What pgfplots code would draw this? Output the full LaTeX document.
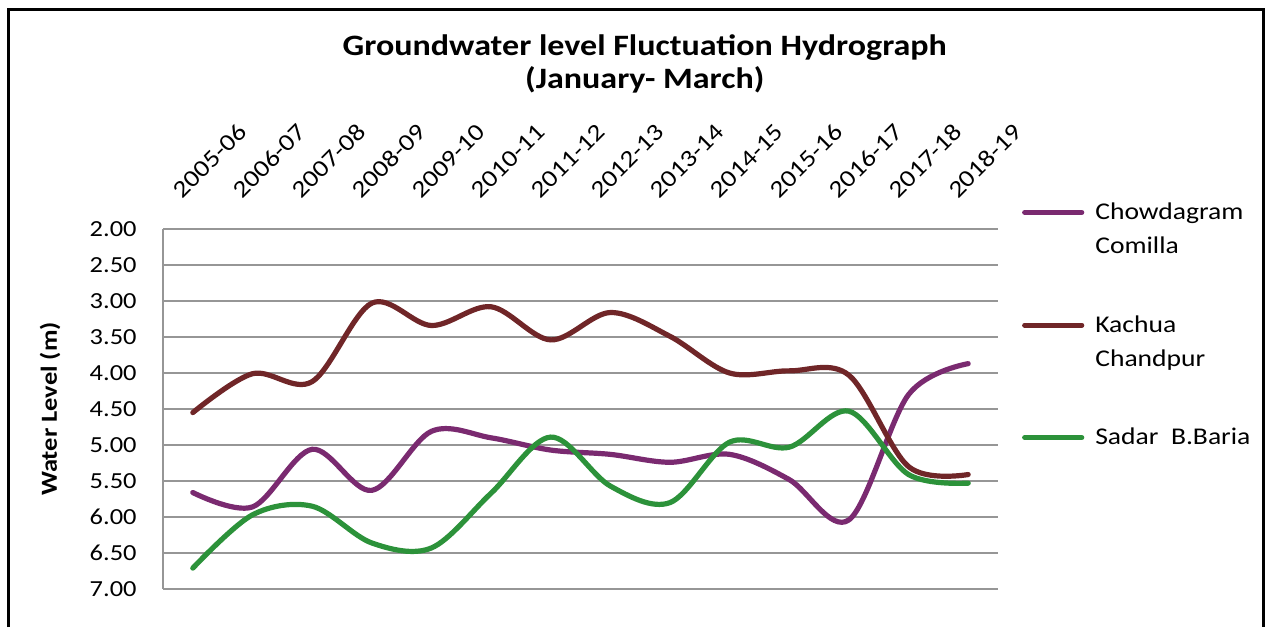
\documentclass[border=0pt]{standalone}
\usepackage{fontspec}
\setmainfont[FakeStretch=1.15]{Carlito}
\usepackage{pgfplots}
\pgfplotsset{compat=1.18}
\definecolor{cpurple}{RGB}{122,42,112}
\definecolor{cbrown}{RGB}{112,38,40}
\definecolor{cgreen}{RGB}{44,146,58}
\definecolor{cgrid}{RGB}{150,150,150}
\begin{document}
\begin{tikzpicture}
\useasboundingbox (0,0) rectangle (634pt,313.5pt);
\begin{axis}[
  at={(81.5pt,19pt)}, anchor=south west,
  scale only axis, width=417.5pt, height=180pt,
  xmin=-0.5, xmax=13.5, ymin=2, ymax=7, y dir=reverse,
  xtick={0,...,13},
  xticklabels={2005-06,2006-07,2007-08,2008-09,2009-10,2010-11,2011-12,2012-13,2013-14,2014-15,2015-16,2016-17,2017-18,2018-19},
  xticklabel pos=upper,
  xticklabel style={inner sep=0pt, anchor=south west, xshift=-5pt, yshift=14.5pt, rotate=45, font=\fontsize{12}{14}\selectfont},
  ytick={2,2.5,...,7},
  yticklabel={\pgfmathprintnumber[fixed,fixed zerofill,precision=2]{\tick}},
  yticklabel style={inner sep=0pt, anchor=east, xshift=-13pt, font=\fontsize{11.5}{14}\selectfont},
  /pgf/number format/assume math mode=true,
  major tick length=0pt,
  axis line style={draw=none},
  ymajorgrids, xmajorgrids=false,
  major grid style={cgrid, line width=1.3pt},
  extra x ticks={-0.5}, extra x tick labels={},
  extra x tick style={grid=major},
  ylabel={Water Level (m)},
  ylabel style={font=\bfseries\fontsize{11.5}{14}\selectfont, at={(axis description cs:-0.1353,0.5)}, anchor=center},
  title={Groundwater level Fluctuation Hydrograph\\(January- March)},
  title style={font=\bfseries\fontsize{14.8}{16.5}\selectfont, align=center, at={(axis description cs:0.577,1.508)}, anchor=north, inner sep=0pt},
  legend cell align=left,
  legend style={draw=none, fill=none, inner sep=0pt, at={(axis description cs:1.0284,1.104)}, anchor=north west,
    font=\fontsize{12}{17}\selectfont,
    row sep=39pt,
    /tikz/every odd column/.append style={column sep=3.5pt}},
  legend image code/.code={\draw[#1] (0pt,-1.5pt) -- (28.5pt,-1.5pt);},
  every axis plot/.append style={line width=2.6pt, smooth, tension=0.55, line cap=round}
]
\addplot[cpurple] coordinates {(0,5.66) (1,5.86) (2,5.06) (3,5.63) (4,4.81) (5,4.90) (6,5.07) (7,5.13) (8,5.24) (9,5.13) (10,5.48) (11,6.04) (12,4.30) (13,3.87)};
\addlegendentry{\begin{tabular}[t]{@{}l@{}}Chowdagram\\Comilla\end{tabular}}
\addplot[cbrown] coordinates {(0,4.55) (1,4.01) (2,4.12) (3,3.03) (4,3.34) (5,3.08) (6,3.54) (7,3.16) (8,3.49) (9,4.00) (10,3.97) (11,4.03) (12,5.30) (13,5.41)};
\addlegendentry{\begin{tabular}[t]{@{}l@{}}Kachua\\Chandpur\end{tabular}}
\addplot[cgreen] coordinates {(0,6.71) (1,5.97) (2,5.85) (3,6.36) (4,6.43) (5,5.67) (6,4.89) (7,5.57) (8,5.80) (9,4.96) (10,5.03) (11,4.53) (12,5.41) (13,5.53)};
\addlegendentry{\rule{0pt}{11.5pt}Sadar\ \ B.Baria}
\end{axis}
\draw[line width=1.5pt] (4pt,0) -- (4pt,308.5pt) -- (631.5pt,308.5pt) -- (631.5pt,0);
\end{tikzpicture}
\end{document}
